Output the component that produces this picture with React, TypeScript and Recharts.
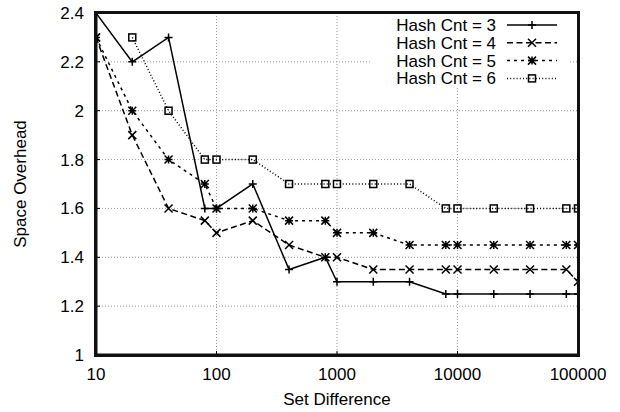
import {
  LineChart,
  Line,
  XAxis,
  YAxis,
  CartesianGrid,
  Legend,
  Label,
} from "recharts"

// set difference (log scale) and the space overhead per hash count
const setDiff = [10, 20, 40, 80, 100, 200, 400, 800, 1000, 2000, 4000, 8000, 10000, 20000, 40000, 80000, 100000]
const hash3 = [2.4, 2.2, 2.3, 1.6, 1.6, 1.7, 1.35, 1.4, 1.3, 1.3, 1.3, 1.25, 1.25, 1.25, 1.25, 1.25, 1.25]
const hash4 = [2.3, 1.9, 1.6, 1.55, 1.5, 1.55, 1.45, 1.4, 1.4, 1.35, 1.35, 1.35, 1.35, 1.35, 1.35, 1.35, 1.3]
const hash5 = [2.3, 2.0, 1.8, 1.7, 1.6, 1.6, 1.55, 1.55, 1.5, 1.5, 1.45, 1.45, 1.45, 1.45, 1.45, 1.45, 1.45]
const hash6 = [null, 2.3, 2.0, 1.8, 1.8, 1.8, 1.7, 1.7, 1.7, 1.7, 1.7, 1.6, 1.6, 1.6, 1.6, 1.6, 1.6]

const xTicks = [10, 100, 1000, 10000, 100000]
const yTicks = [1, 1.2, 1.4, 1.6, 1.8, 2, 2.2, 2.4]

type MarkerShape = "plus" | "cross" | "star" | "square"

const series: { key: string; name: string; dash?: string; marker: MarkerShape }[] = [
  { key: "h3", name: "Hash Cnt = 3", marker: "plus" },
  { key: "h4", name: "Hash Cnt = 4", dash: "6 3.5", marker: "cross" },
  { key: "h5", name: "Hash Cnt = 5", dash: "3 4", marker: "star" },
  { key: "h6", name: "Hash Cnt = 6", dash: "1 2.2", marker: "square" },
]

const data = setDiff.map((x, i) => ({
  x,
  h3: hash3[i],
  h4: hash4[i],
  h5: hash5[i],
  h6: hash6[i],
}))

const FONT = "'Liberation Sans', Arial, Helvetica, sans-serif"
const tickStyle = { fontSize: 17, fill: "#000", fontFamily: FONT }
const frame = { stroke: "#111", strokeWidth: 3, strokeLinecap: "square" as const }

function Marker({ cx, cy, shape }: { cx: number; cy: number; shape: MarkerShape }) {
  const s = 4
  const plus = `M${cx - s},${cy}H${cx + s}M${cx},${cy - s}V${cy + s}`
  const cross = `M${cx - s},${cy - s}L${cx + s},${cy + s}M${cx - s},${cy + s}L${cx + s},${cy - s}`
  if (shape === "square") {
    return <rect x={cx - 3.5} y={cy - 3.5} width={7} height={7} fill="none" stroke="#000" strokeWidth={1.5} />
  }
  const d = shape === "plus" ? plus : shape === "cross" ? cross : plus + cross
  return <path d={d} fill="none" stroke="#000" strokeWidth={1.5} />
}

function makeDot(shape: MarkerShape) {
  return (props: any) => {
    const { cx, cy, index, value } = props
    if (cx == null || cy == null || value == null) return <g key={`d-${shape}-${index}`} />
    return (
      <g key={`d-${shape}-${index}`}>
        <Marker cx={cx} cy={cy} shape={shape} />
      </g>
    )
  }
}

function KeyBox() {
  return (
    <svg width={198} height={71} style={{ display: "block", background: "#fff" }}>
      {series.map((s, i) => {
        const y = 9 + i * 17.8
        return (
          <g key={s.key}>
            <text x={126} y={y + 6} textAnchor="end" fontSize={17} fontFamily={FONT} fill="#000">
              {s.name}
            </text>
            <line x1={137} x2={187} y1={y} y2={y} stroke="#000" strokeWidth={1.5} strokeDasharray={s.dash} />
            <Marker cx={162} cy={y} shape={s.marker} />
          </g>
        )
      })}
    </svg>
  )
}

export default function App() {
  return (
    <div style={{ position: "absolute", left: 0, top: 0, width: 620, height: 412, background: "#fff" }}>
      <LineChart
        width={620}
        height={412}
        data={data}
        margin={{ top: 13, right: 42, bottom: 10, left: 0 }}
        style={{ fontFamily: FONT }}
      >
        <CartesianGrid stroke="#999" strokeDasharray="1 2" />
        <XAxis
          dataKey="x"
          type="number"
          scale="log"
          domain={[10, 100000]}
          ticks={xTicks}
          allowDataOverflow
          height={47}
          tick={tickStyle}
          tickSize={-4}
          tickMargin={17}
          tickLine={{ stroke: "#000" }}
          axisLine={frame}
          interval={0}
        >
          <Label value="Set Difference" position="center" dy={20} style={tickStyle} />
        </XAxis>
        <YAxis
          type="number"
          domain={[1, 2.4]}
          ticks={yTicks}
          allowDataOverflow
          width={96}
          tick={tickStyle}
          tickSize={-4}
          tickMargin={16}
          tickLine={{ stroke: "#000" }}
          axisLine={frame}
          interval={0}
        >
          <Label value="Space Overhead" angle={-90} position="center" dx={-28} style={tickStyle} />
        </YAxis>
        {series.map((s) => (
          <Line
            key={s.key}
            type="linear"
            dataKey={s.key}
            name={s.name}
            stroke="#000"
            strokeWidth={1.5}
            strokeDasharray={s.dash}
            dot={makeDot(s.marker)}
            activeDot={false}
            isAnimationActive={false}
          />
        ))}
        <Legend
          layout="vertical"
          align="center"
          verticalAlign="middle"
          content={() => <KeyBox />}
          wrapperStyle={{ left: 370, top: 16, width: 198, height: 71 }}
        />
      </LineChart>
      {/* heavy border round the plot area */}
      <div
        style={{
          position: "absolute",
          left: 94,
          top: 11,
          width: 480,
          height: 340,
          border: "3px solid #111",
          pointerEvents: "none",
        }}
      />
    </div>
  )
}
